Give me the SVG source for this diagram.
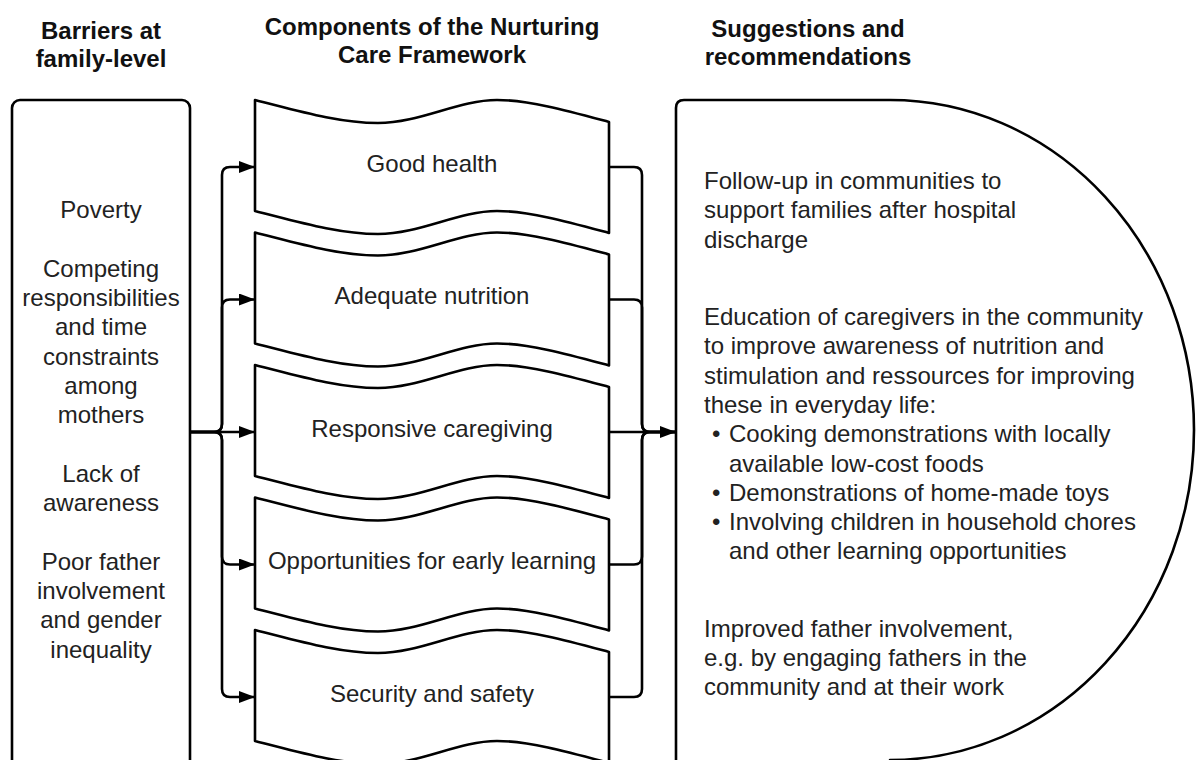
<svg xmlns="http://www.w3.org/2000/svg" xmlns:xlink="http://www.w3.org/1999/xlink" width="1198" height="760" viewBox="0 0 1198 760">
<style>
.hd{font-family:"Liberation Sans",Arial,sans-serif;font-weight:bold;font-size:24px;fill:#111;text-anchor:middle}
.tx{font-family:"Liberation Sans",Arial,sans-serif;font-size:24px;fill:#222}
.c{text-anchor:middle}
.box{fill:#fff;stroke:#000;stroke-width:2.6;stroke-linejoin:round}
.ln{fill:none;stroke:#000;stroke-width:2.6}
</style>
<defs>
<marker id="arr" viewBox="0 0 16 12" refX="16" refY="6" markerWidth="16" markerHeight="12" orient="auto" markerUnits="userSpaceOnUse">
<path d="M0,0 L16,6 L0,12 Z" fill="#000"/>
</marker>
<path id="tape" d="M255,0 C295,10 338,23 378,23 C420,23 458,0 497,0 C530,0 572,12 609,22 L609,133 C572,123 530,111 497,111 C458,111 420,134 378,134 C338,134 295,121 255,111 Z"/>
</defs>
<rect width="1198" height="760" fill="#fff"/>

<g id="headers">
<text class="hd" x="101" y="39">Barriers at</text>
<text class="hd" x="101" y="67">family-level</text>
<text class="hd" x="432" y="35">Components of the Nurturing</text>
<text class="hd" x="432" y="63">Care Framework</text>
<text class="hd" x="808" y="37">Suggestions and</text>
<text class="hd" x="808" y="65">recommendations</text>
</g>

<g id="barriers">
<rect class="box" x="12" y="100" width="178" height="720" rx="8"/>
<text class="tx c" x="101" y="218">Poverty</text>
<text class="tx c" x="101" y="276.6">Competing</text>
<text class="tx c" x="101" y="305.9">responsibilities</text>
<text class="tx c" x="101" y="335.2">and time</text>
<text class="tx c" x="101" y="364.5">constraints</text>
<text class="tx c" x="101" y="393.8">among</text>
<text class="tx c" x="101" y="423.1">mothers</text>
<text class="tx c" x="101" y="481.7">Lack of</text>
<text class="tx c" x="101" y="511">awareness</text>
<text class="tx c" x="101" y="569.6">Poor father</text>
<text class="tx c" x="101" y="598.9">involvement</text>
<text class="tx c" x="101" y="628.2">and gender</text>
<text class="tx c" x="101" y="657.5">inequality</text>
</g>

<g id="good-health">
<use xlink:href="#tape" href="#tape" class="box" transform="translate(0,100)"/>
<text class="tx c" x="432" y="171.5">Good health</text>
</g>
<g id="adequate-nutrition">
<use xlink:href="#tape" href="#tape" class="box" transform="translate(0,232.5)"/>
<text class="tx c" x="432" y="304">Adequate nutrition</text>
</g>
<g id="responsive-caregiving">
<use xlink:href="#tape" href="#tape" class="box" transform="translate(0,365)"/>
<text class="tx c" x="432" y="436.5">Responsive caregiving</text>
</g>
<g id="early-learning">
<use xlink:href="#tape" href="#tape" class="box" transform="translate(0,497.5)"/>
<text class="tx c" x="432" y="569">Opportunities for early learning</text>
</g>
<g id="security-safety">
<use xlink:href="#tape" href="#tape" class="box" transform="translate(0,630)"/>
<text class="tx c" x="432" y="701.5">Security and safety</text>
</g>

<g id="suggestions">
<path class="box" d="M676,820 V108 Q676,100 684,100 H890 A304,330 0 0 1 890,760 L890,820 Z"/>
<text class="tx" x="704" y="189">Follow-up in communities to</text>
<text class="tx" x="704" y="218.3">support families after hospital</text>
<text class="tx" x="704" y="247.6">discharge</text>
<text class="tx" x="704" y="325">Education of caregivers in the community</text>
<text class="tx" x="704" y="354.3">to improve awareness of nutrition and</text>
<text class="tx" x="704" y="383.6">stimulation and ressources for improving</text>
<text class="tx" x="704" y="412.9">these in everyday life:</text>
<text class="tx" x="712" y="442.2">•</text>
<text class="tx" x="729" y="442.2">Cooking demonstrations with locally</text>
<text class="tx" x="729" y="471.5">available low-cost foods</text>
<text class="tx" x="712" y="500.8">•</text>
<text class="tx" x="729" y="500.8">Demonstrations of home-made toys</text>
<text class="tx" x="712" y="530.1">•</text>
<text class="tx" x="729" y="530.1">Involving children in household chores</text>
<text class="tx" x="729" y="559.4">and other learning opportunities</text>
<text class="tx" x="704" y="636.5">Improved father involvement,</text>
<text class="tx" x="704" y="665.8">e.g. by engaging fathers in the</text>
<text class="tx" x="704" y="695.1">community and at their work</text>
</g>

<g id="connectors">
<path class="ln" marker-end="url(#arr)" d="M190,432 H214 Q222,432 222,424 V175 Q222,167 230,167 H255"/>
<path class="ln" marker-end="url(#arr)" d="M190,432 H214 Q222,432 222,424 V307.5 Q222,299.5 230,299.5 H255"/>
<path class="ln" marker-end="url(#arr)" d="M190,432 H255"/>
<path class="ln" marker-end="url(#arr)" d="M190,432 H214 Q222,432 222,440 V556.5 Q222,564.5 230,564.5 H255"/>
<path class="ln" marker-end="url(#arr)" d="M190,432 H214 Q222,432 222,440 V689 Q222,697 230,697 H255"/>
<path class="ln" d="M609,167 H634 Q642,167 642,175 V424 Q642,432 650,432 H676"/>
<path class="ln" d="M609,299.5 H634 Q642,299.5 642,307.5 V424 Q642,432 650,432 H676"/>
<path class="ln" marker-end="url(#arr)" d="M609,432 H676"/>
<path class="ln" d="M609,564.5 H634 Q642,564.5 642,556.5 V440 Q642,432 650,432 H676"/>
<path class="ln" d="M609,697 H634 Q642,697 642,689 V440 Q642,432 650,432 H676"/>
</g>
</svg>
